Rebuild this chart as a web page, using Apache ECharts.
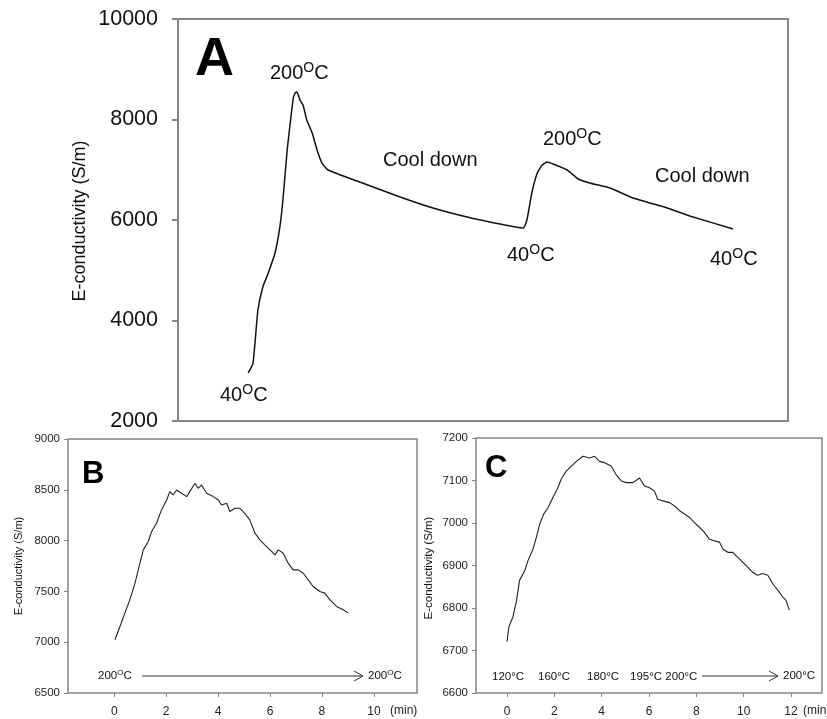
<!DOCTYPE html>
<html>
<head>
<meta charset="utf-8">
<script src="https://cdn.jsdelivr.net/npm/echarts@6/dist/echarts.min.js"></script>
<style>
html,body{margin:0;padding:0;background:#fff;}
#chart{width:827px;height:719px;}
</style>
</head>
<body>
<div id="chart"></div>
<script>
// ---- Panel A (arbitrary time axis 0..100) ----
var aX = [11.5,12.3,13.1,13.9,14.8,15.9,16.7,17.2,17.9,18.4,18.9,19.2,19.5,20.0,20.5,21.1,22.0,22.8,23.6,24.6,29.8,36.4,41.8,47.4,52.8,56.6,57.2,58.0,58.9,59.7,60.5,61.5,63.8,65.6,67.5,70.8,74.6,80.2,83.9,91.0];
var aY = [2955,3154,4209,4667,4945,5343,5861,6398,7393,7930,8428,8527,8547,8388,8288,7990,7731,7393,7134,6995,6756,6458,6239,6060,5920,5841,6000,6537,6935,7094,7154,7114,6995,6816,6736,6637,6438,6239,6080,5821];
var aYTicks = [2000,4000,6000,8000,10000];

// ---- Panel B (min) ----
var bX = [0.03,0.22,0.41,0.60,0.80,0.99,1.12,1.31,1.44,1.63,1.82,2.02,2.14,2.27,2.40,2.59,2.79,2.91,3.11,3.23,3.36,3.56,3.81,4.01,4.13,4.33,4.45,4.65,4.84,5.03,5.22,5.42,5.61,5.80,6.00,6.19,6.32,6.51,6.70,6.89,7.09,7.28,7.47,7.66,7.92,8.11,8.31,8.56,8.82,9.01];
var bY = [7024,7155,7286,7417,7581,7778,7909,7991,8089,8171,8302,8400,8482,8449,8498,8466,8433,8482,8564,8515,8548,8466,8433,8400,8351,8368,8286,8318,8318,8269,8204,8073,8007,7958,7909,7860,7909,7876,7778,7712,7712,7679,7614,7548,7499,7483,7417,7352,7319,7286];
var bXTicks = [0,2,4,6,8,10];

// ---- Panel C (min) ----
var cX = [0,0.08,0.25,0.39,0.53,0.75,0.89,1.10,1.24,1.38,1.55,1.73,1.94,2.15,2.29,2.50,2.72,2.93,3.21,3.49,3.70,3.91,4.12,4.40,4.61,4.83,5.04,5.32,5.60,5.81,6.02,6.23,6.37,6.58,6.87,7.08,7.29,7.50,7.71,7.92,8.13,8.34,8.55,8.76,8.98,9.12,9.33,9.54,9.75,9.96,10.17,10.38,10.59,10.80,11.02,11.23,11.44,11.65,11.79,11.93];
var cY = [6721,6756,6779,6814,6865,6888,6912,6939,6966,6997,7021,7036,7060,7083,7103,7122,7134,7145,7157,7153,7157,7145,7142,7134,7114,7099,7095,7095,7106,7087,7083,7075,7056,7052,7048,7040,7029,7021,7013,7001,6990,6978,6962,6958,6955,6939,6931,6931,6919,6908,6896,6884,6877,6881,6877,6857,6842,6826,6818,6795];
var cXTicks = [0,2,4,6,8,10,12];

function pairs(xs, ys){ return xs.map(function(x,i){ return [x, ys[i]]; }); }
function plain(v){ return String(v); }

var FF = 'Liberation Sans, Arial, sans-serif';
var BORDER = '#858585';

function degO(x, y, num, fs){
  return {type:'text', x:x, y:y, style:{
    text:'{n|'+num+'}{s|O}{n|C}',
    rich:{ n:{fontSize:fs, fontFamily:FF, fill:'#111'},
           s:{fontSize:Math.round(fs*0.68), fontFamily:FF, fill:'#111', padding:[0,0,Math.round(fs*0.5),0]} },
    verticalAlign:'middle'
  }};
}
function txt(x, y, t, fs, extra){
  var s = {text:t, fontSize:fs, fontFamily:FF, fill:'#111', verticalAlign:'middle'};
  for (var k in (extra||{})) s[k] = extra[k];
  return {type:'text', x:x, y:y, style:s};
}
function vtxt(x, y, t, fs){
  return {type:'text', x:x, y:y, rotation:Math.PI/2, style:{text:t, fontSize:fs, fontFamily:FF, fill:'#111', align:'center', verticalAlign:'middle'}};
}
function arrow(x1, x2, y){
  return [
    {type:'line', shape:{x1:x1, y1:y, x2:x2, y2:y}, style:{stroke:'#333', lineWidth:1}},
    {type:'polyline', shape:{points:[[x2-9,y-5],[x2,y],[x2-9,y+5]]}, style:{stroke:'#333', lineWidth:1, fill:null}}
  ];
}

var chart = echarts.init(document.getElementById('chart'), null, {renderer:'canvas'});

var graphics = [
  vtxt(80, 221, 'E-conductivity (S/m)', 18),
  txt(195, 60, 'A', 54, {fontWeight:'bold', fill:'#000'}),
  degO(270, 73, '200', 20),
  txt(383, 160, 'Cool down', 20),
  degO(220, 395, '40', 20),
  degO(543, 139, '200', 20),
  degO(507, 255, '40', 20),
  txt(655, 176, 'Cool down', 20),
  degO(710, 259, '40', 20),

  vtxt(19, 566, 'E-conductivity (S/m)', 11),
  txt(82, 474, 'B', 31, {fontWeight:'bold', fill:'#000'}),
  degO(98, 676, '200', 11.5),
  degO(368, 676, '200', 11.5),
  txt(390, 711, '(min)', 12, {fill:'#222'}),

  vtxt(429, 568, 'E-conductivity (S/m)', 11.5),
  txt(485, 468, 'C', 31, {fontWeight:'bold', fill:'#000'}),
  txt(492, 677, '120°C', 11.5),
  txt(538, 677, '160°C', 11.5),
  txt(587, 677, '180°C', 11.5),
  txt(630, 677, '195°C 200°C', 11.5),
  txt(783, 676, '200°C', 11.5),
  txt(803, 711, '(min)', 12, {fill:'#222'})
];
graphics = graphics.concat(arrow(142, 363, 676), arrow(702, 778, 676));

var option = {
  backgroundColor:'#fff',
  animation:false,
  grid:[
    {left:178, top:19, width:610, height:402, show:true, borderColor:BORDER, borderWidth:2, containLabel:false},
    {left:68, top:439, width:349, height:254, show:true, borderColor:BORDER, borderWidth:1.5, containLabel:false},
    {left:476, top:438, width:346, height:255, show:true, borderColor:BORDER, borderWidth:1.5, containLabel:false}
  ],
  xAxis:[
    {gridIndex:0, type:'value', min:0, max:100, show:false},
    {gridIndex:1, type:'value', min:-1.78, max:11.66,
      axisLine:{show:false, onZero:false}, splitLine:{show:false},
      axisTick:{show:true, length:4, customValues:bXTicks, lineStyle:{color:BORDER}},
      axisLabel:{customValues:bXTicks, margin:13, fontSize:12, fontFamily:FF, color:'#222', formatter:plain}},
    {gridIndex:2, type:'value', min:-1.31, max:13.31,
      axisLine:{show:false, onZero:false}, splitLine:{show:false},
      axisTick:{show:true, length:4, customValues:cXTicks, lineStyle:{color:BORDER}},
      axisLabel:{customValues:cXTicks, margin:13, fontSize:12, fontFamily:FF, color:'#222', formatter:plain}}
  ],
  yAxis:[
    {gridIndex:0, type:'value', min:2000, max:10000, interval:2000,
      axisLine:{show:false, onZero:false}, splitLine:{show:false},
      axisTick:{show:true, length:6, lineStyle:{color:BORDER, width:2}},
      axisLabel:{margin:20, fontSize:21.5, fontFamily:FF, color:'#111', formatter:plain}},
    {gridIndex:1, type:'value', min:6500, max:9000, interval:500,
      axisLine:{show:false, onZero:false}, splitLine:{show:false},
      axisTick:{show:true, length:4, lineStyle:{color:BORDER}},
      axisLabel:{margin:8, fontSize:11.5, fontFamily:FF, color:'#222', formatter:plain}},
    {gridIndex:2, type:'value', min:6600, max:7200, interval:100,
      axisLine:{show:false, onZero:false}, splitLine:{show:false},
      axisTick:{show:true, length:4, lineStyle:{color:BORDER}},
      axisLabel:{margin:8, fontSize:11.5, fontFamily:FF, color:'#222', formatter:plain}}
  ],
  series:[
    {type:'line', xAxisIndex:0, yAxisIndex:0, data:pairs(aX,aY), showSymbol:false, smooth:0.15, lineStyle:{color:'#111', width:1.5}},
    {type:'line', xAxisIndex:1, yAxisIndex:1, data:pairs(bX,bY), showSymbol:false, lineStyle:{color:'#222', width:1.1}},
    {type:'line', xAxisIndex:2, yAxisIndex:2, data:pairs(cX,cY), showSymbol:false, lineStyle:{color:'#222', width:1.1}}
  ],
  graphic:graphics
};
chart.setOption(option);
</script>
</body>
</html>
